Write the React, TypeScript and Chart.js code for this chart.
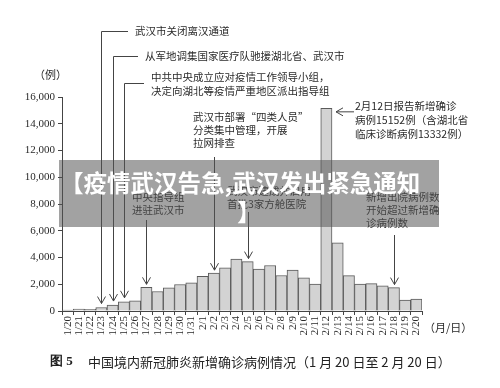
import React, { useEffect, useRef } from "react";
import { Chart, registerables } from "chart.js";

Chart.register(...registerables);

const dates = [
  "1/20", "1/21", "1/22", "1/23", "1/24", "1/25", "1/26", "1/27", "1/28", "1/29", "1/30", "1/31",
  "2/1", "2/2", "2/3", "2/4", "2/5", "2/6", "2/7", "2/8", "2/9", "2/10", "2/11", "2/12",
  "2/13", "2/14", "2/15", "2/16", "2/17", "2/18", "2/19", "2/20",
];
const newCases = [
  77, 149, 131, 259, 444, 688, 769, 1771, 1459, 1737, 1982, 2102,
  2590, 2829, 3235, 3887, 3694, 3143, 3399, 2656, 3062, 2478, 2015, 15152,
  5090, 2641, 2009, 2048, 1886, 1749, 820, 889,
];
const yMax = 16000;
const yStep = 2000;

const titleLine1 = "【疫情武汉告急,武汉发出紧急通知";
const titleLine2 = "】";
const yUnit = "（例）";
const xUnit = "（月/日）";
const captionBold = "图 5";
const captionText = "中国境内新冠肺炎新增确诊病例情况（1 月 20 日至 2 月 20 日）";

// elbow callouts (1/23, 1/24, 1/25)
const elbowNotes = [
  { date: "1/23", lines: ["武汉市关闭离汉通道"] },
  { date: "1/24", lines: ["从军地调集国家医疗队驰援湖北省、武汉市"] },
  { date: "1/25", lines: ["中共中央成立应对疫情工作领导小组，", "决定向湖北等疫情严重地区派出指导组"] },
];
// vertical-arrow callouts
const dropNotes = [
  { date: "1/27", lines: ["中央指导组", "进驻武汉市"] },
  { date: "2/2", lines: ["武汉市部署“四类人员”", "分类集中管理，开展", "拉网排查"] },
  { date: "2/5", lines: ["武汉市建成并启用", "首批3家方舱医院"] },
  { date: "2/18", lines: ["新增出院病例数", "开始超过新增确", "诊病例数"] },
];
const sideNote = { date: "2/12", lines: ["2月12日报告新增确诊", "病例15152例（含湖北省", "临床诊断病例13332例）"] };

// layout (pixels) for callouts
const elbowLayout = [
  { hy: 31, tx: 135 },
  { hy: 56, tx: 145 },
  { hy: 83, tx: 151 },
];
const dropLayout = [
  { startY: 220, tx: 132, ty: 197 },
  { startY: 157, tx: 193, ty: 117 },
  { startY: 212, tx: 227, ty: 191 },
  { startY: 235, tx: 366, ty: 197 },
];

const CJK = '"Noto Sans CJK SC", "Liberation Serif", serif';
const SERIF = '"Liberation Serif", "DejaVu Serif", serif';
const LINE = "#444";
const TEXT = "#2a2a2a";

function chevronDown(ctx: CanvasRenderingContext2D, x: number, y: number) {
  ctx.beginPath();
  ctx.moveTo(x - 4, y - 7);
  ctx.lineTo(x, y);
  ctx.lineTo(x + 4, y - 7);
  ctx.stroke();
}

const annotPlugin = {
  id: "annot",
  afterDraw(chart: any) {
    const ctx: CanvasRenderingContext2D = chart.ctx;
    const xs = chart.scales.x;
    const ys = chart.scales.y;
    const topOf = (d: string) => ys.getPixelForValue(newCases[dates.indexOf(d)]);
    const xOf = (d: string) => xs.getPixelForValue(dates.indexOf(d));
    ctx.save();
    ctx.strokeStyle = LINE;
    ctx.lineWidth = 1;
    ctx.fillStyle = TEXT;
    ctx.font = `10.5px ${CJK}`;
    ctx.textBaseline = "middle";
    ctx.textAlign = "left";

    elbowNotes.forEach((n, i) => {
      const L = elbowLayout[i];
      const x = Math.round(xOf(n.date)) + 0.5;
      const tip = topOf(n.date) - 4;
      ctx.beginPath();
      ctx.moveTo(L.tx - 7, L.hy + 0.5);
      ctx.lineTo(x, L.hy + 0.5);
      ctx.lineTo(x, tip);
      ctx.stroke();
      chevronDown(ctx, x, tip);
      const off = n.lines.length === 1 ? 0 : -6;
      n.lines.forEach((t, k) => ctx.fillText(t, L.tx, L.hy + off + k * 14));
    });

    dropNotes.forEach((n, i) => {
      const L = dropLayout[i];
      const x = Math.round(xOf(n.date)) + 0.5;
      const tip = topOf(n.date) - 3;
      ctx.beginPath();
      ctx.moveTo(x, L.startY);
      ctx.lineTo(x, tip);
      ctx.stroke();
      chevronDown(ctx, x, tip);
      n.lines.forEach((t, k) => ctx.fillText(t, L.tx, L.ty + k * 13));
    });

    // side note with left arrow
    {
      const idx = dates.indexOf(sideNote.date);
      const right = xs.getPixelForValue(idx) + xs.width / dates.length / 2;
      const ay = topOf(sideNote.date) + 3.5;
      const ax = right + 4;
      ctx.beginPath();
      ctx.moveTo(ax + 18, ay);
      ctx.lineTo(ax, ay);
      ctx.stroke();
      ctx.beginPath();
      ctx.moveTo(ax + 7, ay - 4);
      ctx.lineTo(ax, ay);
      ctx.lineTo(ax + 7, ay + 4);
      ctx.stroke();
      sideNote.lines.forEach((t, k) => ctx.fillText(t, 355, 106 + k * 14));
    }

    // axis unit labels
    ctx.font = `11px ${CJK}`;
    ctx.fillText(yUnit, 34, 75);
    ctx.fillText(xUnit, 424, 328);

    // caption
    ctx.font = `bold 13px ${SERIF}`;
    ctx.fillStyle = "#222";
    ctx.fillText(captionBold, 50, 362);
    ctx.font = `13px ${CJK}`;
    ctx.fillText(captionText, 88, 362);

    // banner
    ctx.fillStyle = "rgba(85,85,85,0.55)";
    ctx.fillRect(59, 160, 380, 67);
    ctx.fillStyle = "#ffffff";
    ctx.font = `bold 23.5px ${CJK}`;
    ctx.textAlign = "left";
    ctx.fillText(titleLine1, 60, 183);
    ctx.textAlign = "center";
    ctx.fillText(titleLine2, 249, 212);
    ctx.restore();
  },
};

export default function App() {
  const ref = useRef<HTMLCanvasElement | null>(null);
  useEffect(() => {
    if (!ref.current) return;
    const chart = new Chart(ref.current, {
      type: "bar",
      data: {
        labels: dates,
        datasets: [
          {
            data: newCases,
            backgroundColor: "#d3d3d3",
            borderColor: "#5a5a5a",
            borderWidth: 1,
            barPercentage: 1,
            categoryPercentage: 1,
          },
        ],
      },
      options: {
        responsive: false,
        animation: false,
        layout: { padding: { top: 97, right: 78, left: 0, bottom: 0 } },
        plugins: { legend: { display: false }, tooltip: { enabled: false } },
        scales: {
          x: {
            offset: true,
            grid: { drawOnChartArea: false, tickLength: 4, color: LINE, offset: true },
            border: { color: LINE },
            ticks: {
              minRotation: 90,
              maxRotation: 90,
              autoSkip: false,
              padding: 1,
              color: TEXT,
              font: { family: SERIF, size: 11 },
            },
            afterFit: (s: any) => {
              s.height = 77;
            },
          },
          y: {
            min: 0,
            max: yMax,
            ticks: { stepSize: yStep, color: TEXT, padding: 3, font: { family: SERIF, size: 11 } },
            grid: { drawOnChartArea: false, tickLength: 4, color: LINE },
            border: { color: LINE },
            afterFit: (s: any) => {
              s.width = 62;
            },
          },
        },
      },
      plugins: [annotPlugin],
    });
    return () => chart.destroy();
  }, []);
  return (
    <div style={{ position: "fixed", left: 0, top: 0, width: 500, height: 388, background: "#fff" }}>
      <canvas ref={ref} width={500} height={388} />
    </div>
  );
}
